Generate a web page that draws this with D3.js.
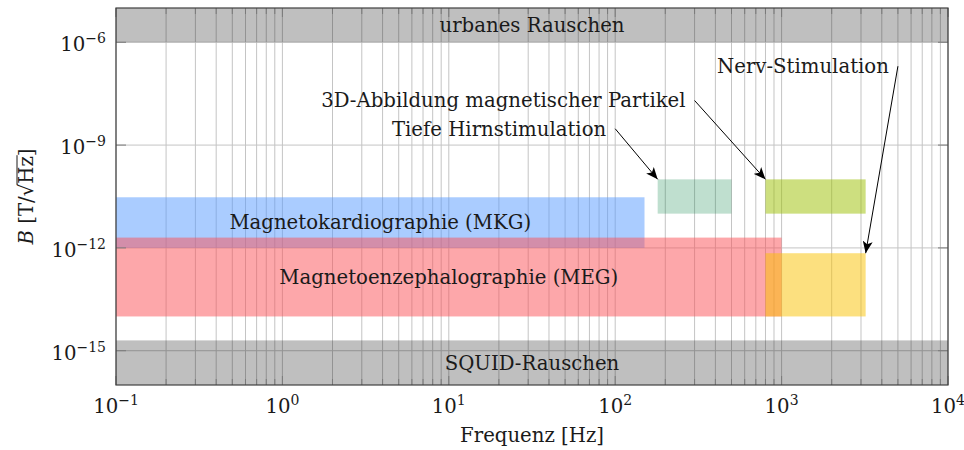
<!DOCTYPE html>
<html>
<head>
<meta charset="utf-8">
<script src="https://cdn.jsdelivr.net/npm/d3@7"></script>
<style>
    body { margin: 0; background: #fff; }
    text { font-family: "DejaVu Serif", serif; fill: #1a1a1a; }
</style>
</head>
<body>
<svg id="chart" width="964" height="450"></svg>
<script>
// regions (Hz, T/sqrt(Hz))
const regionNames = ["Magnetokardiographie (MKG)", "Magnetoenzephalographie (MEG)", "", "", ""];
const regionFreqMin = [0.1, 0.1, 180, 800, 800];
const regionFreqMax = [150, 1000, 500, 3200, 3200];
const regionBMin = [1e-12, 1e-14, 1e-11, 1e-11, 1e-14];
const regionBMax = [3e-11, 2e-12, 1e-10, 1e-10, 7e-13];
const regionColors = ["rgb(85,153,255)", "rgb(252,80,85)", "rgb(0,128,64)", "rgb(155,191,0)", "rgb(250,194,0)"];
const regionOpacity = [0.5, 0.5, 0.25, 0.5, 0.5];

// noise floors
const noiseNames = ["urbanes Rauschen", "SQUID-Rauschen"];
const noiseBMin = [1e-6, 1e-16];
const noiseBMax = [1e-5, 2e-15];

// annotations with arrows
const annTexts = ["Tiefe Hirnstimulation", "3D-Abbildung magnetischer Partikel", "Nerv-Stimulation"];
const annFreq = [100, 300, 5000];
const annB = [3e-9, 2e-8, 2e-7];
const annTargetFreq = [180, 800, 3200];
const annTargetB = [1e-10, 1e-10, 7e-13];

const xDomain = [0.1, 1e4];
const yDomain = [1e-16, 1e-5];
const xMajorTicks = [1e-1, 1e0, 1e1, 1e2, 1e3, 1e4];
const yMajorTicks = [1e-15, 1e-12, 1e-9, 1e-6];

class NoiseChart {
    constructor(svg) {
        this.svg = svg;
        this.plot = {"left": 116, "right": 948, "top": 8, "bottom": 385};
        this.font = 19.7;
        this.createScales();
    }

    createScales() {
        this.x = d3.scaleLog().domain(xDomain).range([this.plot.left, this.plot.right]);
        this.y = d3.scaleLog().domain(yDomain).range([this.plot.bottom, this.plot.top]);
    }

    drawGrid() {
        let g = this.svg.append("g").attr("stroke", "#c4c4c4").attr("stroke-width", 1);
        let xs = this.x.ticks();
        g.selectAll(".vgrid").data(xs).enter().append("line")
            .attr("x1", d => this.x(d)).attr("x2", d => this.x(d))
            .attr("y1", this.plot.top).attr("y2", this.plot.bottom);
        g.selectAll(".hgrid").data(yMajorTicks).enter().append("line")
            .attr("x1", this.plot.left).attr("x2", this.plot.right)
            .attr("y1", d => this.y(d)).attr("y2", d => this.y(d));
    }

    drawRegions() {
        let idx = d3.range(regionFreqMin.length);
        this.svg.append("g").selectAll("rect").data(idx).enter().append("rect")
            .attr("x", i => this.x(regionFreqMin[i]))
            .attr("width", i => this.x(regionFreqMax[i]) - this.x(regionFreqMin[i]))
            .attr("y", i => this.y(regionBMax[i]))
            .attr("height", i => this.y(regionBMin[i]) - this.y(regionBMax[i]))
            .attr("fill", i => regionColors[i])
            .attr("fill-opacity", i => regionOpacity[i]);

        let nidx = d3.range(noiseNames.length);
        this.svg.append("g").selectAll("rect").data(nidx).enter().append("rect")
            .attr("x", this.plot.left)
            .attr("width", this.plot.right - this.plot.left)
            .attr("y", i => this.y(noiseBMax[i]))
            .attr("height", i => this.y(noiseBMin[i]) - this.y(noiseBMax[i]))
            .attr("fill", "#000").attr("fill-opacity", 0.25);
    }

    drawAxes() {
        let p = this.plot;
        let g = this.svg.append("g").attr("stroke", "#7a7a7a").attr("stroke-width", 1);
        let xs = this.x.ticks();
        let isMajor = d => xMajorTicks.some(m => Math.abs(m - d) / m < 1e-6);
        g.selectAll(".xt").data(xs).enter().append("line")
            .attr("x1", d => this.x(d)).attr("x2", d => this.x(d))
            .attr("y1", p.bottom).attr("y2", d => p.bottom - (isMajor(d) ? 9 : 6));
        g.selectAll(".xt2").data(xs).enter().append("line")
            .attr("x1", d => this.x(d)).attr("x2", d => this.x(d))
            .attr("y1", p.top).attr("y2", d => p.top + (isMajor(d) ? 9 : 6));
        g.selectAll(".yt").data(yMajorTicks).enter().append("line")
            .attr("x1", p.left).attr("x2", p.left + 10)
            .attr("y1", d => this.y(d)).attr("y2", d => this.y(d));
        g.selectAll(".yt2").data(yMajorTicks).enter().append("line")
            .attr("x1", p.right).attr("x2", p.right - 10)
            .attr("y1", d => this.y(d)).attr("y2", d => this.y(d));

        this.svg.append("rect")
            .attr("x", p.left).attr("y", p.top)
            .attr("width", p.right - p.left).attr("height", p.bottom - p.top)
            .attr("fill", "none").attr("stroke", "#404040").attr("stroke-width", 1.2);

        // tick labels 10^n
        let expOf = d => Math.round(Math.log10(d)).toString().replace("-", "\u2212");
        let xl = this.svg.append("g").selectAll("text").data(xMajorTicks).enter().append("text")
            .attr("x", d => this.x(d)).attr("y", 413)
            .attr("text-anchor", "middle").attr("font-size", this.font);
        xl.append("tspan").text("10");
        xl.append("tspan").attr("dy", -8).attr("font-size", 14).text(d => expOf(d));

        let yl = this.svg.append("g").selectAll("text").data(yMajorTicks).enter().append("text")
            .attr("x", 106).attr("y", d => this.y(d) + 9)
            .attr("text-anchor", "end").attr("font-size", this.font);
        yl.append("tspan").text("10");
        yl.append("tspan").attr("dy", -8).attr("font-size", 14).text(d => expOf(d));

        this.svg.append("text")
            .attr("x", (p.left + p.right) / 2).attr("y", 442)
            .attr("text-anchor", "middle").attr("font-size", this.font)
            .text("Frequenz [Hz]");

        // y label: B [T/sqrt(Hz)]
        let yg = this.svg.append("g");
        let parts = [["B", "italic"], [" [T/", "normal"], ["\u221A", "normal"], ["Hz", "normal"], ["]", "normal"]];
        let pos = 0;
        let hzStart = 0, hzEnd = 0;
        parts.forEach((pt, i) => {
            let t = yg.append("text").attr("x", pos).attr("y", 0)
                .attr("font-size", this.font).attr("font-style", pt[1])
                .style("white-space", "pre").text(pt[0]);
            let w = t.node().getComputedTextLength();
            if (i === 3) { hzStart = pos; hzEnd = pos + w; }
            pos += w;
        });
        yg.append("line")
            .attr("x1", hzStart - 1).attr("x2", hzEnd + 1)
            .attr("y1", -16).attr("y2", -16)
            .attr("stroke", "#1a1a1a").attr("stroke-width", 1);
        yg.attr("transform", `translate(33,${(p.top + p.bottom) / 2}) rotate(-90) translate(${-pos / 2},0)`);
    }

    drawLabels() {
        let regIdx = d3.range(regionNames.length).filter(i => regionNames[i] !== "");
        this.svg.append("g").selectAll("text").data(regIdx).enter().append("text")
            .attr("x", i => this.x(Math.sqrt(regionFreqMin[i] * regionFreqMax[i])))
            .attr("y", i => this.y(Math.sqrt(regionBMin[i] * regionBMax[i])))
            .attr("dy", "0.35em")
            .attr("text-anchor", "middle").attr("font-size", this.font)
            .text(i => regionNames[i]);

        let noiseIdx = d3.range(noiseNames.length);
        this.svg.append("g").selectAll("text").data(noiseIdx).enter().append("text")
            .attr("x", (this.plot.left + this.plot.right) / 2)
            .attr("y", i => (Math.max(this.y(noiseBMax[i]), this.plot.top) + Math.min(this.y(noiseBMin[i]), this.plot.bottom)) / 2)
            .attr("dy", "0.35em")
            .attr("text-anchor", "middle").attr("font-size", this.font)
            .text(i => noiseNames[i]);
    }

    drawAnnotations() {
        this.svg.append("defs").append("marker")
            .attr("id", "head").attr("viewBox", "0 0 12 10")
            .attr("refX", 12).attr("refY", 5)
            .attr("markerWidth", 12).attr("markerHeight", 10)
            .attr("markerUnits", "userSpaceOnUse")
            .attr("orient", "auto")
            .append("path").attr("d", "M0,0 L12,5 L0,10 L3,5 Z").attr("fill", "#000");

        let idx = d3.range(annTexts.length);
        let g = this.svg.append("g");
        g.selectAll("line").data(idx).enter().append("line")
            .attr("x1", i => this.x(annFreq[i])).attr("y1", i => this.y(annB[i]))
            .attr("x2", i => this.x(annTargetFreq[i])).attr("y2", i => this.y(annTargetB[i]))
            .attr("stroke", "#000").attr("stroke-width", 1)
            .attr("marker-end", "url(#head)");
        g.selectAll("text").data(idx).enter().append("text")
            .attr("x", i => this.x(annFreq[i]) - 9).attr("y", i => this.y(annB[i]))
            .attr("dy", "0.35em")
            .attr("text-anchor", "end").attr("font-size", this.font)
            .text(i => annTexts[i]);
    }
}

let chart = new NoiseChart(d3.select("#chart"));
chart.drawGrid();
chart.drawRegions();
chart.drawAxes();
chart.drawLabels();
chart.drawAnnotations();
</script>
</body>
</html>
